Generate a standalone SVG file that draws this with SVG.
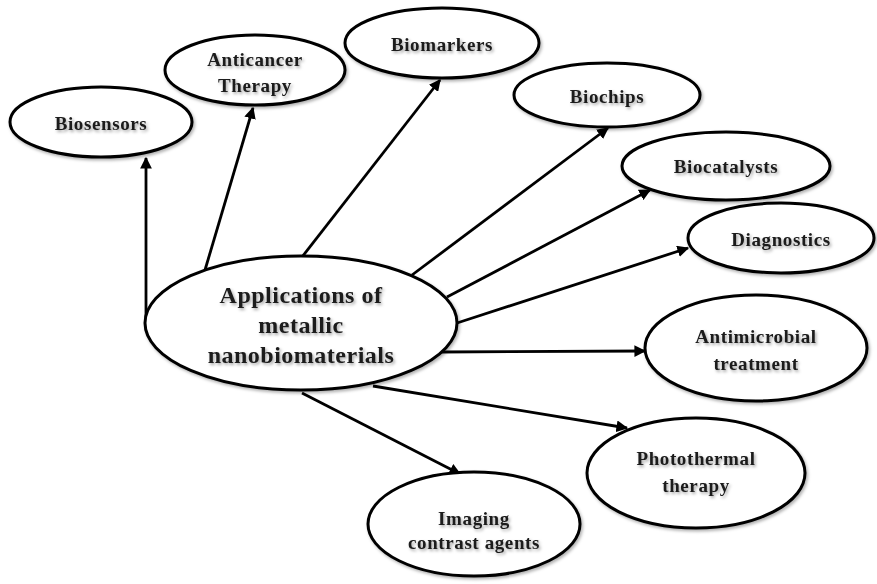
<svg xmlns="http://www.w3.org/2000/svg" width="877" height="584" viewBox="0 0 877 584">
  <defs>
    <filter id="txtShadow" x="-10%" y="-30%" width="120%" height="160%">
      <feDropShadow dx="1.5" dy="2" stdDeviation="1.4" flood-color="#000" flood-opacity="0.35"/>
    </filter>
    <filter id="shapeShadow" x="-10%" y="-10%" width="120%" height="125%">
      <feDropShadow dx="1.5" dy="2" stdDeviation="1.5" flood-color="#000" flood-opacity="0.3"/>
    </filter>
    <marker id="arrow" viewBox="0 0 10 10" refX="9" refY="5" markerWidth="4.2" markerHeight="4.2" orient="auto" markerUnits="strokeWidth">
      <path d="M0,0 L10,5 L0,10 z" fill="#000"/>
    </marker>
  </defs>
  <style>
    .node ellipse { fill: #fff; stroke: #000; stroke-width: 3; filter: url(#shapeShadow); }
    .node text { font-family: "Liberation Serif", "DejaVu Serif", serif; font-weight: bold; font-size: 19px; letter-spacing: 0.6px; fill: #1a1a1a; text-anchor: middle; filter: url(#txtShadow); }
    .node.hub text { font-size: 24px; letter-spacing: 0.5px; }
    .edges line { stroke: #000; stroke-width: 2.8; marker-end: url(#arrow); }
  </style>
  <rect width="877" height="584" fill="#fff"/>

  <g class="edges">
    <line x1="146" y1="318" x2="146" y2="158"/>
    <line x1="205" y1="270" x2="253" y2="108"/>
    <line x1="302" y1="257" x2="440" y2="80"/>
    <line x1="412" y1="275" x2="608" y2="128"/>
    <line x1="447" y1="297" x2="650" y2="190"/>
    <line x1="457" y1="323" x2="688" y2="248"/>
    <line x1="440" y1="352" x2="645" y2="351"/>
    <line x1="373" y1="386" x2="627" y2="428"/>
    <line x1="302" y1="393" x2="460" y2="474"/>
  </g>

  <g id="hub" class="node hub">
    <ellipse cx="301" cy="323" rx="156" ry="67"/>
    <text x="301" y="303">Applications of</text>
    <text x="301" y="333">metallic</text>
    <text x="301" y="363">nanobiomaterials</text>
  </g>

  <g id="biosensors" class="node">
    <ellipse cx="101" cy="122" rx="91" ry="35"/>
    <text x="101" y="130">Biosensors</text>
  </g>

  <g id="anticancer" class="node">
    <ellipse cx="255" cy="70" rx="90" ry="35"/>
    <text x="255" y="66">Anticancer</text>
    <text x="255" y="92">Therapy</text>
  </g>

  <g id="biomarkers" class="node">
    <ellipse cx="442" cy="43" rx="97" ry="35"/>
    <text x="442" y="51">Biomarkers</text>
  </g>

  <g id="biochips" class="node">
    <ellipse cx="607" cy="95" rx="93" ry="32"/>
    <text x="607" y="103">Biochips</text>
  </g>

  <g id="biocatalysts" class="node">
    <ellipse cx="726" cy="166" rx="104" ry="34"/>
    <text x="726" y="173">Biocatalysts</text>
  </g>

  <g id="diagnostics" class="node">
    <ellipse cx="781" cy="238" rx="93" ry="35"/>
    <text x="781" y="246">Diagnostics</text>
  </g>

  <g id="antimicrobial" class="node">
    <ellipse cx="756" cy="348" rx="111" ry="53"/>
    <text x="756" y="343">Antimicrobial</text>
    <text x="756" y="370">treatment</text>
  </g>

  <g id="photothermal" class="node">
    <ellipse cx="696" cy="473" rx="109" ry="55"/>
    <text x="696" y="465">Photothermal</text>
    <text x="696" y="492">therapy</text>
  </g>

  <g id="imaging" class="node">
    <ellipse cx="474" cy="524" rx="106" ry="52"/>
    <text x="474" y="525">Imaging</text>
    <text x="474" y="549">contrast agents</text>
  </g>
</svg>
